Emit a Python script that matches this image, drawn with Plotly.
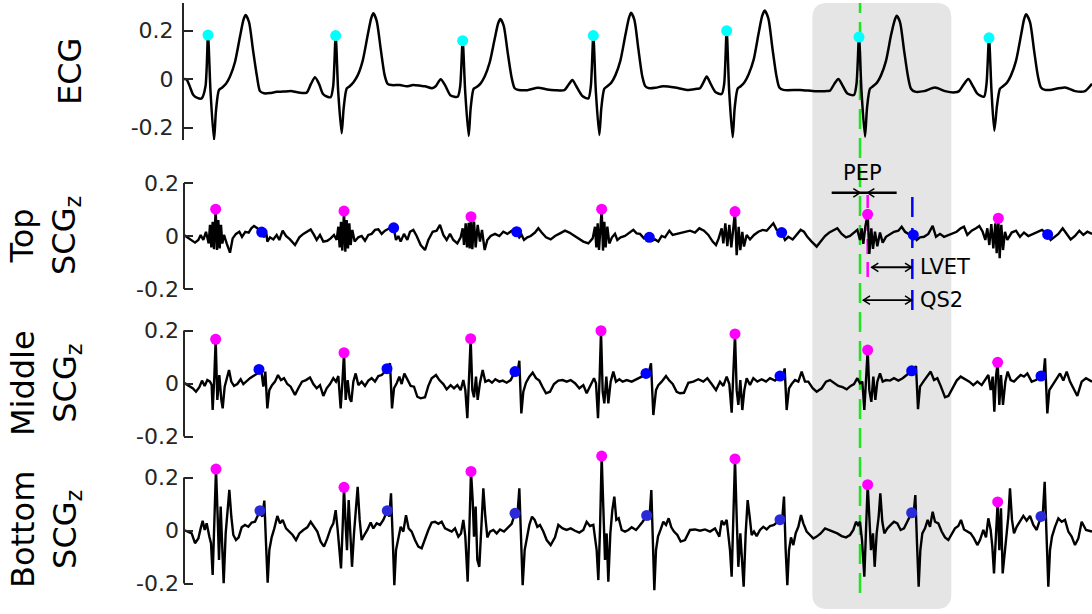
import plotly.graph_objects as go

# ---------------- data (time in ms, amplitude in a.u.) ----------------
ECG = [(0, 0.0), (16, -0.002), (36, -0.033), (56, -0.066), (80, -0.078), (106, -0.08), (129, -0.03), (144, 0.181),
       (159, -0.05), (180, -0.252), (192, -0.13), (210, -0.045), (228, -0.036), (252, -0.02), (276, 0.01), (306, 0.07),
       (336, 0.175), (357, 0.245), (370, 0.264), (390, 0.235), (414, 0.12), (438, 0.01), (456, -0.05), (480, -0.059),
       (516, -0.058), (556, -0.053), (594, -0.052), (648, -0.05), (696, -0.057), (736, -0.056),
       (762, -0.02), (786, 0.007), (810, -0.02), (834, -0.062), (860, -0.073), (880, -0.075), (895, -0.03), (910, 0.179),
       (925, -0.05), (946, -0.224), (958, -0.12), (976, -0.04), (994, -0.03), (1018, -0.012), (1042, 0.015), (1072, 0.075),
       (1102, 0.18), (1123, 0.25), (1136, 0.271), (1156, 0.24), (1180, 0.125), (1204, 0.015), (1222, -0.02), (1246, -0.025),
       (1296, -0.025), (1336, -0.03), (1374, -0.025), (1420, -0.028), (1446, -0.03), (1488, -0.038),
       (1510, -0.03), (1540, -0.001), (1566, -0.025), (1600, -0.068), (1642, -0.073), (1657, -0.03), (1672, 0.158),
       (1687, -0.05), (1708, -0.235), (1720, -0.12), (1738, -0.04), (1756, -0.033), (1780, -0.018), (1804, 0.01),
       (1834, 0.068), (1864, 0.165), (1885, 0.23), (1898, 0.247), (1918, 0.22), (1942, 0.11), (1966, 0.005),
       (1984, -0.038), (2008, -0.045), (2060, -0.046), (2124, -0.036), (2180, -0.043), (2226, -0.046), (2282, -0.046),
       (2306, -0.025), (2330, -0.004), (2354, -0.03), (2390, -0.07), (2426, -0.08), (2441, -0.03), (2456, 0.179),
       (2471, -0.05), (2492, -0.231), (2504, -0.12), (2522, -0.04), (2540, -0.03), (2564, -0.015), (2588, 0.015),
       (2618, 0.075), (2648, 0.18), (2669, 0.25), (2682, 0.273), (2702, 0.245), (2726, 0.125), (2750, 0.01),
       (2768, -0.03), (2792, -0.038), (2830, -0.036), (2874, -0.03), (2946, -0.035), (3018, -0.045), (3078, -0.04),
       (3096, -0.038),
       (3116, -0.015), (3136, 0.01), (3160, -0.02), (3190, -0.055), (3226, -0.062), (3241, -0.02), (3256, 0.199),
       (3271, -0.05), (3292, -0.24), (3304, -0.12), (3322, -0.04), (3340, -0.03), (3364, -0.012), (3388, 0.02),
       (3418, 0.08), (3448, 0.19), (3469, 0.26), (3484, 0.282), (3506, 0.25), (3530, 0.13), (3554, 0.015),
       (3572, -0.035), (3596, -0.045), (3696, -0.045), (3786, -0.05), (3846, -0.05), (3876, -0.048),
       (3902, -0.02), (3926, 0.0), (3950, -0.025), (3980, -0.06), (4020, -0.066), (4035, -0.02), (4050, 0.173),
       (4065, -0.05), (4086, -0.238), (4098, -0.12), (4116, -0.04), (4134, -0.03), (4158, -0.015), (4182, 0.015),
       (4212, 0.075), (4242, 0.18), (4263, 0.24), (4276, 0.261), (4296, 0.235), (4320, 0.12), (4344, 0.01),
       (4362, -0.04), (4386, -0.052), (4440, -0.05), (4506, -0.035), (4566, -0.05), (4626, -0.055), (4650, -0.05),
       (4676, -0.025), (4706, 0.0), (4730, -0.025), (4760, -0.06), (4800, -0.073), (4815, -0.02), (4830, 0.170),
       (4845, -0.05), (4862, -0.213), (4878, -0.11), (4896, -0.04), (4914, -0.03), (4938, -0.015), (4962, 0.015),
       (4992, 0.075), (5022, 0.18), (5040, 0.245), (5052, 0.267), (5076, 0.235), (5100, 0.12), (5124, 0.01),
       (5142, -0.035), (5166, -0.045), (5196, -0.045), (5286, -0.035), (5346, -0.05), (5406, -0.05), (5448, -0.02)]

ECG_R_T = [144, 910, 1672, 2456, 3256, 4050, 4830]
ECG_R_V = [0.181, 0.179, 0.158, 0.179, 0.199, 0.173, 0.170]

# SCG amplitudes in milli-units
TOP_SCG = [(0,4),(16,-3),(46,-15),(66,-25),(86,-15),(100,4),(116,-15),(132,16),(148,-28),(156,42),(164,-43),(172,54),(180,-50),(190,101),(198,-53),(206,60),(214,-47),(222,42),(230,-28),(240,4),(256,-28),(276,-63),(292,-9),(312,8),(332,16),(348,-3),(368,16),(388,13),(404,29),(420,38),(440,29),(466,15),(480,-5),(492,23),(500,-21),(516,-5),(536,-13),(556,4),(572,-15),(592,20),(612,0),(636,-13),(666,-34),(692,-5),(716,8),(740,16),(760,25),(780,4),(796,-15),(816,4),(836,-21),(860,-18),(880,-9),(900,4),(916,-15),(926,35),(934,-43),(942,54),(950,-55),(960,94),(968,-59),(976,60),(984,-47),(992,48),(1000,-34),(1010,23),(1024,-21),(1046,-5),(1066,0),(1086,-18),(1106,4),(1126,8),(1146,23),(1166,25),(1186,8),(1206,20),(1232,29),(1258,31),(1272,-15),(1286,0),(1300,-21),(1320,8),(1340,-15),(1356,16),(1376,23),(1396,0),(1420,-34),(1446,-53),(1466,-15),(1492,16),(1516,20),(1536,42),(1556,4),(1576,-15),(1596,8),(1616,-15),(1640,-28),(1660,-5),(1672,29),(1680,-34),(1690,48),(1698,-43),(1708,50),(1714,-47),(1722,73),(1730,-50),(1740,54),(1750,-43),(1762,42),(1776,-21),(1788,23),(1804,-53),(1820,-15),(1840,0),(1866,8),(1892,0),(1916,16),(1940,8),(1966,20),(1996,16),(2012,-5),(2026,4),(2040,-15),(2060,-5),(2080,0),(2106,13),(2126,29),(2146,13),(2172,-5),(2200,-13),(2226,0),(2256,10),(2286,20),(2312,13),(2336,4),(2366,-9),(2396,-21),(2426,-28),(2452,-9),(2466,35),(2474,-43),(2482,48),(2490,-53),(2506,101),(2514,-55),(2522,54),(2530,-43),(2540,35),(2552,-28),(2568,-5),(2586,8),(2600,-15),(2620,-5),(2646,0),(2676,12),(2696,23),(2716,10),(2736,8),(2760,-9),(2792,-5),(2808,-18),(2826,-13),(2846,-21),(2866,0),(2886,-5),(2912,20),(2932,4),(2956,8),(2980,13),(3006,16),(3036,20),(3066,13),(3092,29),(3120,20),(3146,4),(3172,-21),(3192,-34),(3208,-9),(3226,29),(3236,-28),(3248,48),(3260,-38),(3272,42),(3284,-43),(3294,29),(3306,92),(3316,-72),(3328,35),(3338,-53),(3350,16),(3360,-40),(3376,4),(3396,-13),(3420,4),(3446,16),(3472,23),(3496,20),(3516,35),(3536,48),(3556,23),(3586,13),(3606,-15),(3626,-3),(3652,-13),(3676,4),(3700,23),(3720,16),(3740,-3),(3766,-21),(3796,-40),(3820,-21),(3846,0),(3872,13),(3896,20),(3920,29),(3946,8),(3972,-5),(3996,0),(4020,13),(4040,23),(4056,-15),(4066,29),(4076,-30),(4088,35),(4102,82),(4112,-68),(4124,29),(4134,-49),(4146,16),(4160,-39),(4176,13),(4192,-25),(4212,-3),(4236,8),(4260,16),(4286,20),(4306,35),(4326,16),(4346,8),(4376,4),(4396,-15),(4416,-5),(4440,-3),(4466,8),(4492,38),(4512,-3),(4536,8),(4560,-3),(4586,4),(4612,8),(4636,16),(4660,29),(4680,35),(4700,4),(4726,20),(4752,29),(4772,38),(4792,16),(4808,-15),(4820,29),(4832,-34),(4844,45),(4856,-47),(4868,48),(4876,-65),(4886,67),(4894,-84),(4904,42),(4914,-53),(4926,16),(4940,-15),(4966,13),(4992,20),(5016,-3),(5040,13),(5066,0),(5092,8),(5120,16),(5148,23),(5182,6),(5200,-15),(5220,-5),(5246,8),(5272,29),(5296,8),(5320,-13),(5346,0),(5372,20),(5396,4),(5420,16),(5448,8)]

MID_SCG = [(0,3),(26,-6),(52,-18),(72,-31),(92,-14),(108,11),(124,-9),(140,13),(156,7),(166,-6),(172,-100),(182,26),(190,167),(200,-62),(212,32),(224,-62),(232,-94),(244,-12),(256,20),(270,51),(284,7),(300,-9),(320,-2),(340,16),(356,-2),(376,11),(396,20),(416,28),(436,36),(450,53),(466,38),(476,-12),(488,45),(500,-94),(512,-25),(528,-6),(546,7),(564,32),(582,13),(600,20),(620,-2),(640,-12),(666,-43),(686,-18),(708,7),(732,13),(756,23),(776,-2),(796,-18),(816,-6),(836,-47),(856,-18),(876,-2),(896,20),(912,7),(926,28),(940,-94),(950,1),(960,116),(970,-62),(982,13),(994,-56),(1004,-69),(1016,7),(1030,38),(1046,-6),(1066,7),(1086,-9),(1106,11),(1126,20),(1146,7),(1166,28),(1186,32),(1200,41),(1218,56),(1236,76),(1248,-94),(1260,-18),(1276,1),(1292,26),(1306,-2),(1322,38),(1340,13),(1360,-9),(1380,-12),(1400,-50),(1420,-56),(1446,-52),(1466,-9),(1486,20),(1512,32),(1532,13),(1556,-2),(1576,-22),(1600,-6),(1620,-18),(1640,-6),(1660,-25),(1676,13),(1688,-25),(1700,-131),(1710,7),(1720,169),(1730,-25),(1740,-52),(1752,26),(1762,-62),(1776,3),(1792,51),(1808,7),(1828,13),(1848,3),(1868,16),(1892,7),(1912,11),(1936,3),(1960,13),(1986,45),(2000,38),(2012,86),(2024,-113),(2036,-31),(2052,3),(2072,26),(2092,41),(2112,20),(2132,11),(2152,-14),(2172,-37),(2196,-31),(2220,-2),(2246,11),(2272,13),(2296,7),(2320,13),(2346,1),(2372,-18),(2396,-6),(2416,-37),(2440,-6),(2460,20),(2472,1),(2484,-131),(2494,26),(2502,199),(2512,-31),(2522,-75),(2534,26),(2546,-75),(2560,7),(2576,45),(2592,7),(2612,16),(2632,7),(2656,13),(2686,7),(2716,16),(2746,26),(2772,38),(2788,38),(2802,76),(2816,-119),(2832,-25),(2846,-6),(2866,7),(2892,28),(2912,11),(2932,-2),(2956,-31),(2976,-37),(3000,-35),(3026,3),(3056,7),(3086,16),(3116,7),(3140,20),(3166,-2),(3192,-25),(3216,7),(3236,-9),(3256,26),(3272,-2),(3286,-110),(3296,26),(3306,187),(3316,-25),(3326,-81),(3338,13),(3350,-100),(3362,-25),(3376,20),(3396,-6),(3416,20),(3440,7),(3466,16),(3492,7),(3516,20),(3546,11),(3576,28),(3592,20),(3604,57),(3616,-100),(3630,-18),(3646,-2),(3666,13),(3686,7),(3706,45),(3726,7),(3746,7),(3772,-18),(3796,-31),(3826,-18),(3852,7),(3876,13),(3900,1),(3926,-9),(3952,-14),(3976,-22),(4000,-9),(4020,-2),(4040,20),(4056,1),(4070,7),(4082,-100),(4092,13),(4102,126),(4112,-25),(4124,-69),(4136,26),(4148,-62),(4160,7),(4176,38),(4192,7),(4212,13),(4236,11),(4260,20),(4286,11),(4312,20),(4336,32),(4366,48),(4380,51),(4392,66),(4404,-97),(4416,-12),(4436,7),(4460,26),(4480,45),(4500,13),(4520,20),(4540,-9),(4566,-52),(4586,-47),(4612,-18),(4636,11),(4660,26),(4686,16),(4712,7),(4736,-6),(4760,7),(4786,-6),(4806,13),(4826,32),(4840,-25),(4852,26),(4862,-106),(4872,26),(4882,80),(4892,-81),(4902,32),(4914,-81),(4928,7),(4942,45),(4960,13),(4980,7),(5000,20),(5020,32),(5040,26),(5060,38),(5086,7),(5112,13),(5142,28),(5156,26),(5166,95),(5180,-113),(5192,-25),(5212,-6),(5236,20),(5256,38),(5276,11),(5296,45),(5316,7),(5336,-18),(5360,-47),(5386,7),(5412,20),(5448,7)]

BOT_SCG = [(0,2),(26,-4),(46,-11),(66,-48),(86,-30),(100,8),(112,37),(124,2),(136,27),(152,-23),(162,-48),(172,-168),(182,14),(192,232),(202,52),(210,-111),(220,90),(228,-74),(238,-199),(250,-11),(260,65),(272,153),(284,52),(296,-17),(312,-36),(328,-26),(346,12),(366,21),(386,14),(406,30),(426,33),(456,75),(470,52),(482,113),(492,-48),(502,-197),(512,-74),(526,-26),(542,8),(560,55),(576,27),(592,40),(612,8),(632,-4),(652,-17),(672,-36),(692,-11),(716,2),(740,12),(760,33),(780,14),(800,-4),(820,-42),(840,-61),(860,-30),(880,8),(896,27),(910,77),(922,2),(932,-74),(942,-143),(952,14),(960,163),(970,21),(978,-74),(988,115),(998,-23),(1008,-137),(1020,-11),(1032,77),(1042,165),(1054,40),(1066,-36),(1082,-17),(1100,2),(1120,30),(1136,8),(1156,27),(1176,21),(1196,40),(1220,75),(1232,52),(1242,140),(1252,-23),(1262,-206),(1272,-74),(1286,-36),(1300,14),(1316,-4),(1332,58),(1348,8),(1366,-4),(1386,-36),(1406,-61),(1426,-67),(1446,-30),(1466,2),(1486,30),(1506,33),(1526,25),(1546,33),(1566,8),(1586,2),(1606,-4),(1626,8),(1646,-23),(1662,-11),(1676,40),(1688,-23),(1702,-193),(1712,2),(1722,223),(1732,115),(1740,-23),(1750,90),(1760,-111),(1772,-137),(1784,-11),(1796,159),(1808,52),(1820,-26),(1836,-4),(1856,2),(1876,-11),(1896,4),(1920,-4),(1946,12),(1966,25),(1986,65),(2000,52),(2012,159),(2022,-23),(2032,-206),(2044,-74),(2056,-36),(2072,21),(2088,52),(2104,40),(2120,14),(2136,21),(2156,-4),(2176,-36),(2200,-55),(2226,-26),(2246,21),(2272,8),(2296,2),(2320,8),(2346,-1),(2372,-8),(2396,2),(2416,33),(2436,17),(2456,21),(2468,-36),(2476,-74),(2486,-187),(2496,2),(2506,281),(2516,52),(2526,-111),(2536,-11),(2546,-193),(2558,-11),(2570,77),(2582,128),(2594,40),(2608,46),(2626,2),(2646,-4),(2666,2),(2686,12),(2712,2),(2726,12),(2752,33),(2776,57),(2792,40),(2804,153),(2814,-48),(2822,-225),(2832,-74),(2844,-23),(2860,4),(2876,33),(2892,21),(2908,46),(2924,12),(2940,-4),(2960,-17),(2980,-42),(3006,-36),(3036,2),(3066,4),(3096,-1),(3126,4),(3156,-4),(3186,8),(3212,-23),(3226,37),(3240,21),(3256,40),(3268,-17),(3276,-74),(3286,-174),(3296,14),(3306,270),(3316,52),(3326,-137),(3338,-11),(3348,-137),(3358,-212),(3370,-11),(3382,115),(3394,52),(3406,-17),(3420,-4),(3436,-21),(3456,2),(3476,14),(3496,4),(3516,17),(3540,21),(3576,41),(3588,33),(3600,128),(3610,-74),(3620,-206),(3630,-74),(3642,-26),(3656,-55),(3670,-11),(3686,14),(3702,58),(3716,27),(3736,-4),(3756,-17),(3776,-30),(3796,-23),(3820,-11),(3846,8),(3872,2),(3896,-4),(3920,-11),(3946,-21),(3972,-26),(3996,-17),(4016,2),(4032,33),(4044,21),(4056,33),(4068,-36),(4082,-174),(4092,14),(4102,173),(4112,52),(4122,-74),(4134,-11),(4144,-137),(4156,-11),(4168,52),(4178,140),(4190,33),(4202,-11),(4220,8),(4240,21),(4260,33),(4280,27),(4300,2),(4320,8),(4340,33),(4366,67),(4376,52),(4388,134),(4398,-48),(4408,-212),(4418,-74),(4430,-11),(4446,8),(4462,40),(4476,14),(4492,71),(4506,33),(4526,27),(4546,-4),(4566,-26),(4586,-36),(4606,-11),(4626,8),(4646,17),(4662,40),(4680,4),(4700,-4),(4720,-11),(4740,-30),(4760,-55),(4776,-36),(4796,2),(4812,-26),(4826,46),(4840,2),(4850,-61),(4860,-162),(4872,14),(4882,108),(4892,-74),(4902,84),(4912,-162),(4924,-74),(4936,-11),(4946,52),(4956,159),(4968,40),(4980,-11),(4996,14),(5016,33),(5036,55),(5056,37),(5076,55),(5096,21),(5116,2),(5142,53),(5152,52),(5164,184),(5176,-48),(5186,-212),(5196,-74),(5208,-23),(5226,14),(5246,46),(5266,33),(5286,40),(5306,-4),(5326,-23),(5346,-55),(5366,-30),(5386,33),(5412,2),(5448,-4)]

TOP_AO_T = [190, 960, 1722, 2506, 3306, 4102, 4886]
TOP_AO_V = [101, 94, 73, 101, 92, 82, 67]
TOP_AC_T = [466, 1258, 1996, 2792, 3586, 4376, 5182]
TOP_AC_V = [15, 31, 16, -5, 13, 4, 6]
MID_AO_T = [190, 960, 1720, 2502, 3306, 4102, 4882]
MID_AO_V = [167, 116, 169, 199, 187, 126, 80]
MID_AC_T = [450, 1218, 1986, 2772, 3576, 4366, 5142]
MID_AC_V = [53, 56, 45, 38, 28, 48, 28]
BOT_AO_T = [192, 960, 1722, 2506, 3306, 4102, 4882]
BOT_AO_V = [232, 163, 223, 281, 270, 173, 108]
BOT_AC_T = [456, 1220, 1986, 2776, 3576, 4366, 5142]
BOT_AC_V = [75, 75, 65, 57, 41, 67, 53]

Y_TICKS = [-0.2, 0, 0.2]
Y_TICK_TEXT = ["-0.2", "0", "0.2"]
ROW_TITLES = ["ECG", "Top<br>SCG<sub>z</sub>", "Middle<br>SCG<sub>z</sub>", "Bottom<br>SCG<sub>z</sub>"]
INTERVAL_LABELS = ["PEP", "LVET", "QS2"]

HIGHLIGHT_BEAT = 5          # index of the annotated beat
WINDOW = (3770, 4604)       # highlighted time window (ms)
T_END = 5448

# ---------------- figure ----------------
W, H = 1092, 614
FONT = "DejaVu Sans"
AX = "#262626"


def fx(p):
    return p / W


def py(p):
    return 1 - p / H


def milli(vals):
    return [v / 1000 for v in vals]


X_DOM = [fx(184), fx(1092)]
rows = [
    dict(dom=(140, 3), rng=(-0.2515, 0.3134)),
    dict(dom=(312, 145), rng=(-0.2868, 0.3434)),
    dict(dom=(450, 312), rng=(-0.2509, 0.2698)),
    dict(dom=(614, 450), rng=(-0.3151, 0.3038)),
]

fig = go.Figure()

fig.add_trace(go.Scatter(x=[p[0] for p in ECG], y=[p[1] for p in ECG], mode="lines",
                         line=dict(color="black", width=2.5, shape="spline", smoothing=0.7),
                         xaxis="x", yaxis="y", hoverinfo="skip"))
fig.add_trace(go.Scatter(x=ECG_R_T, y=ECG_R_V, mode="markers", cliponaxis=False,
                         marker=dict(color="#00ffff", size=11), xaxis="x", yaxis="y"))

scg = [(TOP_SCG, TOP_AO_T, TOP_AO_V, TOP_AC_T, TOP_AC_V, "#0000ff"),
       (MID_SCG, MID_AO_T, MID_AO_V, MID_AC_T, MID_AC_V, "#0000ff"),
       (BOT_SCG, BOT_AO_T, BOT_AO_V, BOT_AC_T, BOT_AC_V, "#2a2ad8")]
for i, (sig, aot, aov, act, acv, bcol) in enumerate(scg, start=2):
    xa, ya = f"x{i}", f"y{i}"
    fig.add_trace(go.Scatter(x=[p[0] for p in sig], y=milli([p[1] for p in sig]), mode="lines",
                             line=dict(color="black", width=2.4), xaxis=xa, yaxis=ya))
    fig.add_trace(go.Scatter(x=aot, y=milli(aov), mode="markers", cliponaxis=False,
                             marker=dict(color="#ff00ff", size=11), xaxis=xa, yaxis=ya))
    fig.add_trace(go.Scatter(x=act, y=milli(acv), mode="markers", cliponaxis=False,
                             marker=dict(color=bcol, size=11), xaxis=xa, yaxis=ya))

layout = dict(width=W, height=H, margin=dict(l=0, r=0, t=0, b=0), showlegend=False,
              paper_bgcolor="white", plot_bgcolor="rgba(0,0,0,0)",
              font=dict(family=FONT, color="black"), hovermode=False)
shapes = []
for i, r in enumerate(rows, start=1):
    sfx = "" if i == 1 else str(i)
    layout[f"xaxis{sfx}"] = dict(domain=X_DOM, range=[0, T_END], visible=False, anchor=f"y{sfx}")
    layout[f"yaxis{sfx}"] = dict(domain=[py(r["dom"][0]), py(r["dom"][1])], range=list(r["rng"]),
                                 anchor=f"x{sfx}", showgrid=False, zeroline=False,
                                 showline=(i == 1), linecolor=AX, linewidth=2,
                                 tickmode="array", tickvals=Y_TICKS, ticktext=Y_TICK_TEXT,
                                 ticks="inside", ticklen=9, tickwidth=2, tickcolor=AX,
                                 ticklabelstandoff=4,
                                 tickfont=dict(family=FONT, size=22, color=AX))
    if i > 1:
        shapes.append(dict(type="line", xref="paper", yref=f"y{sfx}", x0=X_DOM[0], x1=X_DOM[0],
                           y0=Y_TICKS[0], y1=Y_TICKS[-1], line=dict(color=AX, width=2)))

# highlighted window (rounded box)
x0, x1 = WINDOW
rx = 90
yb, yt = py(609), py(3)
ry = 15 / H
path = (f"M {x0+rx},{yt} L {x1-rx},{yt} Q {x1},{yt} {x1},{yt-ry} L {x1},{yb+ry} "
        f"Q {x1},{yb} {x1-rx},{yb} L {x0+rx},{yb} Q {x0},{yb} {x0},{yb+ry} "
        f"L {x0},{yt-ry} Q {x0},{yt} {x0+rx},{yt} Z")
shapes.insert(0, dict(type="path", path=path, xref="x", yref="paper", layer="below",
                      fillcolor="#e5e5e5", line=dict(width=0)))

q_t = ECG_R_T[HIGHLIGHT_BEAT] + 6
ao_t = TOP_AO_T[HIGHLIGHT_BEAT]
ac_t = TOP_AC_T[HIGHLIGHT_BEAT] - 6
shapes.append(dict(type="line", xref="x", yref="paper", x0=q_t, x1=q_t, y0=py(593), y1=py(3),
                   layer="below", line=dict(color="#1ee61e", width=2.5, dash="20px,9px")))
shapes.append(dict(type="line", xref="x2", yref="y2", x0=ao_t, x1=ao_t, y0=-0.155, y1=0.155,
                   layer="below", line=dict(color="#ff00ff", width=2.5, dash="15px,8px")))
shapes.append(dict(type="line", xref="x2", yref="y2", x0=ac_t, x1=ac_t, y0=-0.279, y1=0.162,
                   layer="below", line=dict(color="#0000ff", width=2.5, dash="20px,11px")))

# interval arrows (drawn as lines + open chevron heads)
HL, HH = 40, 0.016          # head length (ms), head half-height (a.u.)


def head(tip, y, direction):
    b = tip - direction * HL
    return dict(type="path", xref="x2", yref="y2",
                path=f"M {b},{y + HH} L {tip},{y} L {b},{y - HH}",
                line=dict(color="black", width=1.5))


pep_y, lvet_y, qs2_y = 0.163, -0.118, -0.242
shapes.append(dict(type="line", xref="x2", yref="y2", x0=q_t - 170, x1=ao_t + 174, y0=pep_y, y1=pep_y,
                   line=dict(color="black", width=2.5)))
shapes.append(head(q_t, pep_y, +1))
shapes.append(head(ao_t, pep_y, -1))
for (a, b, yy) in [(ao_t + 24, ac_t - 4, lvet_y), (q_t + 20, ac_t - 4, qs2_y)]:
    shapes.append(dict(type="line", xref="x2", yref="y2", x0=a, x1=b, y0=yy, y1=yy,
                       line=dict(color="black", width=1.8)))
    shapes.append(head(a, yy, -1))
    shapes.append(head(b, yy, +1))
layout["shapes"] = shapes

ann = []
title_pos = [(70, 72), (45, 236), (45, 383), (45, 530)]
for txt, (xp, yp) in zip(ROW_TITLES, title_pos):
    ann.append(dict(text=txt, xref="paper", yref="paper", x=fx(xp), y=py(yp), textangle=-90,
                    showarrow=False, font=dict(family=FONT, size=32, color="black"),
                    xanchor="center", yanchor="middle"))

ann.append(dict(text=INTERVAL_LABELS[0], xref="x2", yref="y2", x=(q_t + ao_t) / 2 - 6, y=0.236,
                showarrow=False, font=dict(family=FONT, size=21, color="black")))
ann.append(dict(text=INTERVAL_LABELS[1], xref="x2", yref="y2", x=ac_t + 36, y=lvet_y, showarrow=False,
                xanchor="left", font=dict(family=FONT, size=21, color="black")))
ann.append(dict(text=INTERVAL_LABELS[2], xref="x2", yref="y2", x=ac_t + 36, y=qs2_y, showarrow=False,
                xanchor="left", font=dict(family=FONT, size=21, color="black")))
layout["annotations"] = ann

fig.update_layout(**layout)
fig.write_html("out.html", config={"displayModeBar": False, "staticPlot": True},
               post_script="document.body.style.margin='0';")
